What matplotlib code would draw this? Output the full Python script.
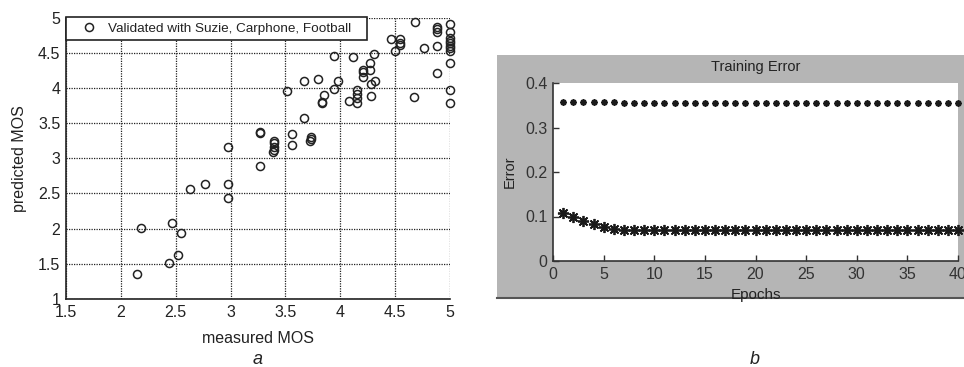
import matplotlib
matplotlib.use("Agg")
import matplotlib.pyplot as plt
from matplotlib.patches import Rectangle
from matplotlib.lines import Line2D

plt.rcParams['font.family'] = ['Liberation Sans', 'DejaVu Sans']

# Measured vs predicted MOS (validation on Suzie, Carphone, Football)
measured_mos = [
    2.15, 2.18, 2.44, 2.47, 2.52, 2.55, 2.63, 2.77, 2.98, 2.98, 2.98,
    3.27, 3.27, 3.27, 3.40, 3.40, 3.40, 3.40, 3.39,
    3.51, 3.56, 3.56, 3.67, 3.67, 3.72, 3.73, 3.73, 3.80, 3.83, 3.83, 3.85,
    3.94, 3.94, 3.98, 4.08, 4.12, 4.15, 4.15, 4.15, 4.15,
    4.21, 4.21, 4.21, 4.27, 4.27, 4.28, 4.28, 4.31, 4.32,
    4.46, 4.50, 4.54, 4.54, 4.54, 4.68, 4.67, 4.76,
    4.88, 4.88, 4.88, 4.88, 4.88,
    5.00, 5.00, 5.00, 5.00, 5.00, 5.00, 5.00, 5.00, 5.00, 5.00, 5.00,
]
predicted_mos = [
    1.35, 2.01, 1.51, 2.08, 1.62, 1.94, 2.56, 2.63, 2.63, 2.44, 3.16,
    2.89, 3.36, 3.37, 3.25, 3.21, 3.16, 3.12, 3.09,
    3.96, 3.34, 3.19, 4.10, 3.57, 3.24, 3.30, 3.27, 4.13, 3.78, 3.80, 3.90,
    4.45, 3.98, 4.10, 3.81, 4.44, 3.97, 3.92, 3.86, 3.79,
    4.25, 4.23, 4.16, 4.35, 4.25, 4.05, 3.89, 4.48, 4.10,
    4.69, 4.52, 4.69, 4.64, 4.61, 4.93, 3.87, 4.56,
    4.86, 4.83, 4.80, 4.60, 4.21,
    4.91, 4.80, 4.71, 4.67, 4.64, 4.60, 4.56, 4.53, 4.35, 3.97, 3.79,
]

# Training error per epoch for the two curves
epochs = list(range(1, 41))
error_upper = [0.357] * 6 + [0.354] * 34
error_lower = [0.108, 0.100, 0.091, 0.084, 0.076, 0.071] + [0.069] * 34

fig = plt.figure(figsize=(9.64, 3.67), dpi=100)
W, H = 964, 367


def fx(px):
    return px / W


def fy(py):
    return 1 - py / H


# ---- panel a: scatter ----
ax1 = fig.add_axes([fx(66), fy(299), fx(450) - fx(66), fy(17.5) - fy(299)])
ax1.plot(measured_mos, predicted_mos, linestyle='none', marker='o',
         markersize=5.8, markerfacecolor='none', markeredgecolor='#222222',
         markeredgewidth=1.1, label='Validated with Suzie, Carphone, Football',
         clip_on=False, zorder=3)
ax1.set_xlim(1.5, 5)
ax1.set_ylim(1, 5)
ax1.set_xticks([1.5, 2, 2.5, 3, 3.5, 4, 4.5, 5])
ax1.set_xticklabels(['1.5', '2', '2.5', '3', '3.5', '4', '4.5', '5'])
ax1.set_yticks([1, 1.5, 2, 2.5, 3, 3.5, 4, 4.5, 5])
ax1.set_yticklabels(['1', '1.5', '2', '2.5', '3', '3.5', '4', '4.5', '5'])
ax1.grid(True, color='#222222', linestyle=(0, (1, 1)), linewidth=0.9)
ax1.set_axisbelow(True)
for s in ['top', 'right']:
    ax1.spines[s].set_visible(False)
for s in ['left', 'bottom']:
    ax1.spines[s].set_linewidth(1.2)
    ax1.spines[s].set_color('#222222')
ax1.tick_params(direction='in', length=0, labelsize=11.5, colors='#222222', pad=4)
ax1.set_xlabel('measured MOS', fontsize=11.5, color='#222222', labelpad=8)
ax1.set_ylabel('predicted MOS', fontsize=11.5, color='#222222', labelpad=8)
leg = ax1.legend(loc='upper left', bbox_to_anchor=(0, 0, 301 / 384, 1),
                 mode='expand', borderaxespad=0,
                 fancybox=False, framealpha=1, edgecolor='#222222',
                 fontsize=9.7, handlelength=2.7, handletextpad=0.05,
                 borderpad=0.38, markerscale=1.0)
leg.get_frame().set_linewidth(1.2)
for t in leg.get_texts():
    t.set_color('#222222')
fig.text(fx(258), fy(360), 'a', fontsize=13, style='italic', ha='center',
         va='center', color='#222222')

# ---- panel b: training error ----
fig.patches.append(Rectangle((fx(497), fy(298)), 1 - fx(497), fy(55) - fy(298),
                             transform=fig.transFigure, facecolor='#b5b5b5',
                             edgecolor='none', zorder=-2))
fig.lines.append(Line2D([fx(497), 1], [fy(298), fy(298)], transform=fig.transFigure,
                        color='#555555', linewidth=1.5, zorder=-1))

ax2 = fig.add_axes([fx(553), fy(261), fx(958) - fx(553), fy(83) - fy(261)])
ax2.set_zorder(2)
ax2.set_facecolor('white')
ax2.plot(epochs, error_upper, linestyle='none', marker=(8, 2, 0), markersize=4.5,
         markeredgewidth=1.3, color='#1a1a1a', clip_on=False)
ax2.plot(epochs, error_lower, linestyle='none', marker=(8, 2, 0), markersize=8,
         markeredgewidth=1.3, color='#1a1a1a', clip_on=False)
ax2.set_xlim(0, 40)
ax2.set_ylim(0, 0.4)
ax2.set_xticks(range(0, 41, 5))
ax2.set_yticks([0, 0.1, 0.2, 0.3, 0.4])
ax2.set_yticklabels(['0', '0.1', '0.2', '0.3', '0.4'])
for s in ['top', 'right']:
    ax2.spines[s].set_visible(False)
for s in ['left', 'bottom']:
    ax2.spines[s].set_linewidth(1.2)
    ax2.spines[s].set_color('#333333')
ax2.tick_params(direction='in', length=4, width=1, labelsize=11.5,
                colors='#333333', pad=4)
ax2.set_title('Training Error', fontsize=10.5, color='#222222', pad=9)
ax2.set_xlabel('Epochs', fontsize=11, color='#222222', labelpad=5)
ax2.set_ylabel('Error', fontsize=10.5, color='#222222', labelpad=6)
fig.text(fx(755), fy(360), 'b', fontsize=13, style='italic', ha='center',
         va='center', color='#222222')

fig.savefig('out.png', dpi=100, facecolor='white')
